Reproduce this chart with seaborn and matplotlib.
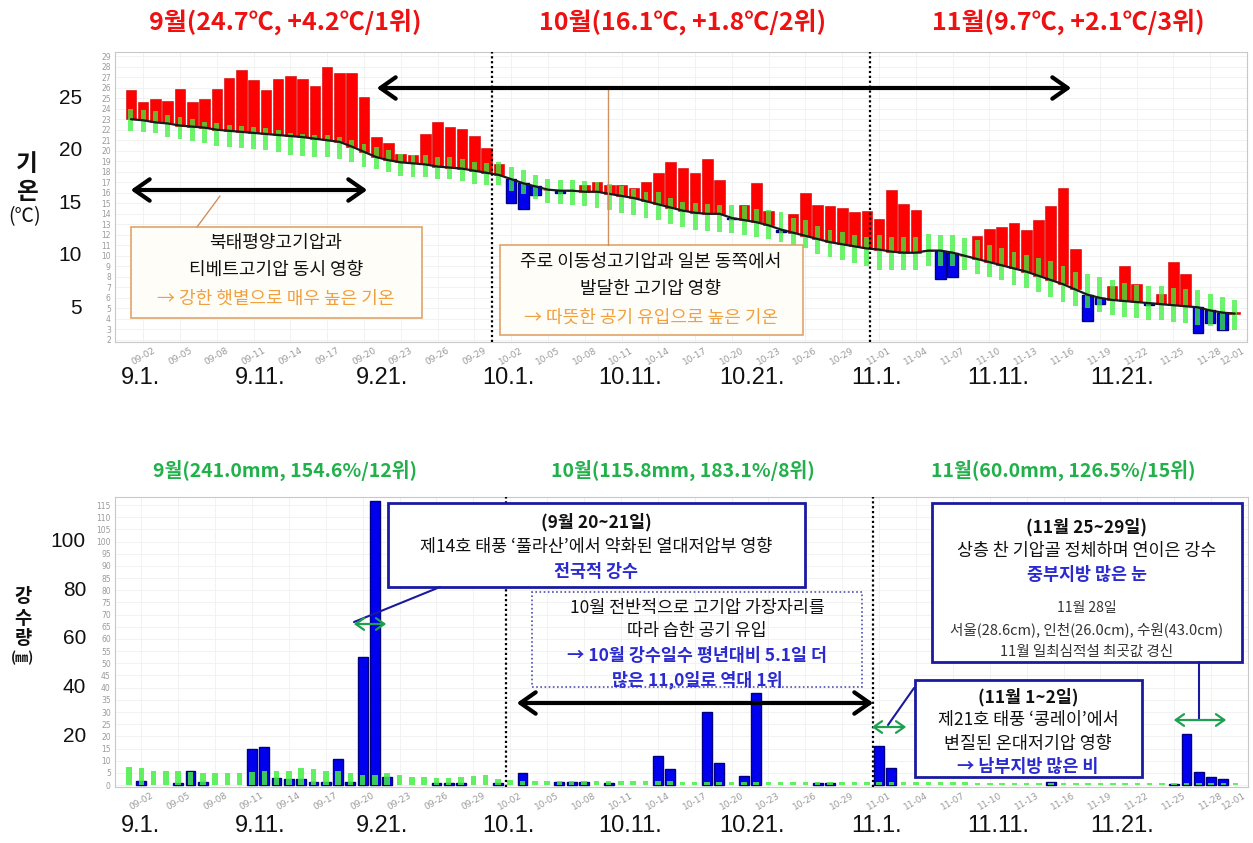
import numpy as np
import pandas as pd
import matplotlib.pyplot as plt
import seaborn as sns
from matplotlib.patches import Rectangle, FancyArrowPatch
from matplotlib.lines import Line2D

# ---------------- data (2024 autumn, daily) ----------------
dates = pd.date_range('2024-09-01', '2024-11-30', freq='D')

temp_sep = [25.8, 24.65, 24.9, 24.7, 25.9, 24.65, 24.9, 25.9, 26.9, 27.7, 26.7, 25.8, 26.8, 27.1, 26.8,
            26.2, 28.0, 27.4, 27.4, 25.1, 21.3, 20.7, 19.7, 19.6, 21.6, 22.7, 22.3, 22.1, 21.4, 20.3]
temp_oct = [18.7, 15.05, 14.5, 15.8, 16.3, 16.0, 16.2, 16.7, 17.05, 16.7, 16.7, 16.5, 17.05, 17.9, 18.9,
            18.4, 17.9, 19.2, 17.2, 13.5, 14.8, 16.9, 14.3, 12.3, 14.0, 16.0, 14.8, 14.7, 14.6, 14.2, 14.3]
temp_nov = [13.5, 16.3, 14.9, 14.4, 10.6, 7.8, 8.0, 10.0, 11.9, 12.6, 12.7, 13.15, 12.45, 13.4, 14.7,
            16.5, 10.65, 3.8, 5.4, 7.1, 9.0, 7.3, 5.3, 6.4, 9.4, 8.3, 2.7, 3.6, 2.95, 4.7]

normal_sep = [23.0, 22.9, 22.7, 22.6, 22.4, 22.3, 22.2, 22.0, 21.9, 21.8, 21.7, 21.6, 21.5, 21.4, 21.3,
              21.15, 21.0, 20.85, 20.4, 19.9, 19.4, 19.1, 18.9, 18.8, 18.7, 18.5, 18.4, 18.3, 18.1, 17.9]
normal_oct = [17.7, 17.3, 16.9, 16.6, 16.3, 16.2, 16.2, 16.1, 16.1, 15.9, 15.7, 15.5, 15.2, 14.9, 14.6,
              14.3, 14.1, 14.0, 14.0, 13.6, 13.4, 13.2, 12.9, 12.5, 12.2, 11.9, 11.6, 11.3, 11.1, 10.9, 10.7]
normal_nov = [10.6, 10.4, 10.3, 10.3, 10.5, 10.5, 10.3, 10.0, 9.7, 9.4, 9.1, 8.8, 8.5, 8.1, 7.7,
              7.3, 6.8, 6.3, 6.0, 5.8, 5.7, 5.6, 5.5, 5.4, 5.3, 5.2, 5.1, 4.8, 4.6, 4.5]

# normal range (upper / lower)
range_hi_sep = [24.0, 23.9, 23.8, 23.4, 23.2, 23.0, 22.75, 22.6, 22.5, 22.4, 22.3, 22.2, 22.0, 21.7, 21.6,
                21.5, 21.5, 21.3, 21.0, 20.6, 20.4, 20.1, 19.7, 19.6, 19.6, 19.4, 19.4, 19.2, 18.9, 18.8]
range_lo_sep = [21.9, 21.8, 21.7, 21.3, 21.1, 20.9, 20.7, 20.5, 20.4, 20.3, 20.2, 20.1, 19.9, 19.6, 19.5,
                19.4, 19.4, 19.2, 18.9, 18.5, 18.3, 18.0, 17.6, 17.5, 17.5, 17.3, 17.3, 17.1, 16.8, 16.7]
range_hi_oct = [18.9, 18.5, 18.2, 17.7, 17.3, 17.2, 17.2, 17.1, 17.0, 16.8, 16.6, 16.4, 16.1, 16.1, 15.5,
                15.1, 15.0, 14.9, 14.8, 14.8, 14.7, 14.5, 14.4, 14.2, 13.6, 13.4, 12.8, 12.5, 12.3, 12.0, 11.8]
range_lo_oct = [16.7, 16.2, 15.9, 15.4, 15.0, 14.9, 14.8, 14.7, 14.6, 14.4, 14.1, 13.9, 13.6, 13.4, 13.0,
                12.7, 12.5, 12.4, 12.3, 12.2, 12.0, 11.8, 11.6, 11.3, 10.9, 10.7, 10.2, 9.9, 9.6, 9.3, 9.0]
range_hi_nov = [12.0, 11.8, 11.8, 11.8, 12.1, 12.0, 12.0, 11.7, 11.5, 11.0, 10.7, 10.4, 10.1, 9.8, 9.5,
                9.0, 8.5, 8.3, 8.0, 7.7, 7.4, 7.2, 7.1, 7.1, 6.9, 6.8, 6.75, 6.4, 6.1, 5.8]
range_lo_nov = [8.65, 8.65, 8.65, 8.65, 9.0, 9.0, 9.0, 8.65, 8.3, 8.0, 7.7, 7.2, 6.9, 6.6, 6.1,
                5.6, 5.2, 5.0, 4.7, 4.4, 4.2, 4.1, 3.9, 3.9, 3.7, 3.6, 3.4, 3.3, 2.95, 2.95]

rain_sep = [0, 1.5, 0, 0, 0.7, 5.7, 1.4, 0, 0, 0, 14.8, 15.7, 2.7, 2.3, 2.3,
            1.4, 1.4, 10.5, 1.1, 52.7, 116.8, 3.4, 0, 0, 0, 0.7, 1.0, 0.7, 0, 0]
rain_oct = [1.0, 0, 4.8, 0, 0, 1.4, 1.4, 1.4, 0, 0.7, 0, 0, 0, 12.0, 6.4,
            0, 0, 30.1, 9.2, 0, 3.7, 37.9, 0, 0, 0, 0, 1.0, 1.0, 0, 0, 0]
rain_nov = [16.0, 6.8, 0, 0, 0, 0, 0, 0, 0, 0, 0, 0, 0, 0, 1.1,
            0, 0, 0, 0, 0, 0, 0, 0, 0, 0.5, 20.8, 5.5, 3.4, 2.3, 0]

rain_normal_sep = [7.3, 6.8, 5.9, 5.9, 5.9, 5.5, 5.1, 4.8, 4.8, 5.1, 5.5, 5.9, 5.9, 5.9, 6.8,
                   6.4, 5.7, 5.7, 4.8, 4.1, 4.1, 5.1, 4.1, 3.4, 3.4, 2.7, 2.7, 3.4, 3.7, 4.1]
rain_normal_oct = [2.5, 2.0, 1.8, 1.7, 1.6, 1.6, 1.6, 1.5, 1.5, 1.5, 1.5, 1.5, 1.5, 1.5, 1.5,
                   1.4, 1.4, 1.4, 1.4, 1.4, 1.4, 1.3, 1.3, 1.3, 1.3, 1.3, 1.3, 1.3, 1.3, 1.3, 1.3]
rain_normal_nov = [1.2, 1.2, 1.2, 1.1, 1.1, 1.1, 1.1, 1.1, 1.0, 1.0, 1.0, 1.0, 1.0, 1.0, 1.0,
                   1.0, 1.0, 1.0, 0.9, 0.9, 0.9, 0.9, 0.9, 0.9, 0.9, 0.9, 0.9, 0.9, 0.9, 0.9]

temp_titles = ['9월(24.7℃, +4.2℃/1위)', '10월(16.1℃, +1.8℃/2위)', '11월(9.7℃, +2.1℃/3위)']
rain_titles = ['9월(241.0mm, 154.6%/12위)', '10월(115.8mm, 183.1%/8위)', '11월(60.0mm, 126.5%/15위)']
big_date_labels = ['9.1.', '9.11.', '9.21.', '10.1.', '10.11.', '10.21.', '11.1.', '11.11.', '11.21.']
temp_big_ticks = [5, 10, 15, 20, 25]
rain_big_ticks = [20, 40, 60, 80, 100]

####################################################
W, H = 1253, 843
RED_T = '#ee1111'
GREEN_T = '#22b04b'
ORANGE = '#f0a040'
NAVY = '#1a1aa0'
BLUE_T = '#2a2ad0'


def fx(px):
    return px / W


def fy(py):
    return 1 - py / H


def ftext(fig, px, py, s, size, color='#111111', weight='normal', family=None, **kw):
    kw.setdefault('ha', 'center')
    kw.setdefault('va', 'center')
    if family is not None:
        kw['family'] = family
    fig.text(fx(px), fy(py), s, fontsize=size, color=color, fontweight=weight, **kw)


def fbox(fig, x0, y0, x1, y1, ec, fc='white', lw=1.5, ls='-'):
    fig.add_artist(Rectangle((fx(x0), fy(y1)), (x1 - x0) / W, (y1 - y0) / H,
                             transform=fig.transFigure, ec=ec, fc=fc, lw=lw, ls=ls, zorder=5))


def fline(fig, x0, y0, x1, y1, color, lw=1.2):
    fig.add_artist(Line2D([fx(x0), fx(x1)], [fy(y0), fy(y1)], transform=fig.transFigure,
                          color=color, lw=lw, zorder=6))


def farrow(fig, x0, x1, y, color, lw, scale):
    fig.add_artist(FancyArrowPatch(
        (fx(x0), fy(y)), (fx(x1), fy(y)), transform=fig.transFigure,
        arrowstyle='<->,head_length=0.5,head_width=0.35', mutation_scale=scale,
        color=color, lw=lw, zorder=7))


def style_axes(ax, xlim, ylim, yticks):
    ax.set_xlim(*xlim)
    ax.set_ylim(*ylim)
    ticks = list(range(1, 92, 3))
    ax.set_xticks(ticks)
    labels = [d.strftime('%m-%d') for d in pd.date_range('2024-09-01', periods=92, freq='D')[ticks]]
    ax.set_xticklabels(labels, rotation=30, ha='center', fontsize=6.5, color='#9a9a9a', family='DejaVu Sans')
    ax.get_xticklabels()[-1].set_horizontalalignment('right')
    ax.set_yticks(yticks)
    ax.set_yticklabels([str(v) for v in yticks], fontsize=5.5, color='#9a9a9a', family='DejaVu Sans')
    ax.tick_params(axis='both', length=2, width=0.6, color='#aaaaaa', pad=1)
    ax.grid(True, color='#f0f0f0', lw=0.6)
    for sp in ax.spines.values():
        sp.set_color('#c8c8c8')
        sp.set_linewidth(0.8)
    ax.set_xlabel('')
    ax.set_ylabel('')


def plot_chart():
    sns.set_theme(style='white')
    plt.rcParams['font.family'] = ['Noto Sans CJK KR', 'DejaVu Sans']
    plt.rcParams['axes.unicode_minus'] = False

    idx = np.arange(len(dates))
    temp = np.array(temp_sep + temp_oct + temp_nov)
    normal = np.array(normal_sep + normal_oct + normal_nov)
    r_hi = np.array(range_hi_sep + range_hi_oct + range_hi_nov)
    r_lo = np.array(range_lo_sep + range_lo_oct + range_lo_nov)
    rain = np.array(rain_sep + rain_oct + rain_nov)
    rain_normal = np.array(rain_normal_sep + rain_normal_oct + rain_normal_nov)

    fig = plt.figure(figsize=(12.53, 8.43), dpi=100)
    ax1 = fig.add_axes([fx(115), fy(342), (1247 - 115) / W, (342 - 52) / H])
    ax2 = fig.add_axes([fx(115), fy(787), (1248 - 115) / W, (787 - 497) / H])

    # ---- temperature ----
    above = temp >= normal
    ax1.bar(idx[above], temp[above] - normal[above], bottom=normal[above], width=0.86,
            color='#ff0000', edgecolor='#d00000', linewidth=0.4, zorder=2)
    ax1.bar(idx[~above], temp[~above] - normal[~above], bottom=normal[~above], width=0.86,
            color='#0000ee', edgecolor='#000080', linewidth=1.0, zorder=2)
    ax1.bar(idx, r_hi - r_lo, bottom=r_lo, width=0.4, color='#3cf03c', alpha=0.75,
            linewidth=0, zorder=3)
    sns.lineplot(x=idx, y=normal, ax=ax1, color='#1a1a1a', lw=1.6, zorder=4)
    style_axes(ax1, (-1.3, 90.95), (1.8, 29.4), list(range(2, 30)))
    for xv in (29.4, 60.3):
        ax1.axvline(xv, color='black', ls=(0, (1, 1.2)), lw=1.6, zorder=5)

    # ---- precipitation ----
    wet = rain > 0
    sns.barplot(x=idx[wet], y=rain[wet], ax=ax2, native_scale=True, width=0.8, errorbar=None,
                color='#0000ee', edgecolor='#000080', linewidth=1.0, saturation=1, zorder=2)
    sns.barplot(x=idx, y=rain_normal, ax=ax2, native_scale=True, width=0.45, errorbar=None,
                color='#44ee44', alpha=0.85, linewidth=0, saturation=1, zorder=3)
    style_axes(ax2, (-1.14, 90.98), (-0.8, 118.3), list(range(0, 116, 5)))
    for xv in (30.65, 60.5):
        ax2.axvline(xv, color='black', ls=(0, (1, 1.2)), lw=1.6, zorder=5)

    # ---- titles ----
    for s, px in zip(temp_titles, (285, 683, 1068)):
        ftext(fig, px, 22, s, 18, color=RED_T, weight='bold')
    for s, px in zip(rain_titles, (285, 683, 1063)):
        ftext(fig, px, 470, s, 14, color=GREEN_T, weight='bold')

    # ---- big axis labels ----
    for v in temp_big_ticks:
        ftext(fig, 82, 340 - (v - 2) * 10.52, str(v), 15, family=['Liberation Sans'], ha='right')
    for v in rain_big_ticks:
        ftext(fig, 86, 785 - v * 2.435, str(v), 15, family=['Liberation Sans'], ha='right')
    ftext(fig, 27, 164, '기', 17, weight='bold')
    ftext(fig, 27, 192, '온', 17, weight='bold')
    ftext(fig, 25, 217, '(℃)', 14)
    ftext(fig, 23, 597, '강', 13.5, weight='bold')
    ftext(fig, 23, 618, '수', 13.5, weight='bold')
    ftext(fig, 23, 638, '량', 13.5, weight='bold')
    ftext(fig, 23, 658, '(㎜)', 9.5, weight='bold')
    for s, px in zip(big_date_labels, (140, 260, 382, 508, 630, 752, 877, 998, 1122)):
        ftext(fig, px, 378, s, 17, family=['Liberation Sans'])
        ftext(fig, px, 826, s, 17, family=['Liberation Sans'])

    # ---- temperature annotations ----
    farrow(fig, 128, 370, 190, 'black', 3, 22)
    farrow(fig, 374, 1074, 88, 'black', 3, 22)
    fline(fig, 197, 227, 220, 196, '#d09060', 1.0)
    fline(fig, 608, 90, 608, 245, '#d09060', 1.0)
    fbox(fig, 131, 227, 422, 318, ec='#e0a36a', fc='#fffdf8', lw=1.2)
    ftext(fig, 276, 243, '북태평양고기압과', 13, zorder=8)
    ftext(fig, 276, 270, '티베트고기압 동시 영향', 13, zorder=8)
    ftext(fig, 276, 299, '→ 강한 햇볕으로 매우 높은 기온', 13, color=ORANGE, zorder=8)
    fbox(fig, 500, 245, 803, 335, ec='#e0a36a', fc='#fffdf8', lw=1.2)
    ftext(fig, 651, 262, '주로 이동성고기압과 일본 동쪽에서', 13, zorder=8)
    ftext(fig, 651, 289, '발달한 고기압 영향', 13, zorder=8)
    ftext(fig, 651, 318, '→ 따뜻한 공기 유입으로 높은 기온', 13, color=ORANGE, zorder=8)

    # ---- precipitation annotations ----
    fline(fig, 440, 587, 354, 622, NAVY, 1.5)
    farrow(fig, 351, 389, 624, '#1fa050', 1.6, 12)
    fbox(fig, 388, 503, 805, 587, ec=NAVY, lw=2)
    ftext(fig, 596, 522, '(9월 20~21일)', 12.5, weight='bold', zorder=8)
    ftext(fig, 596, 547, '제14호 태풍 ‘풀라산’에서 약화된 열대저압부 영향', 12.5, zorder=8)
    ftext(fig, 596, 572, '전국적 강수', 12.5, color=BLUE_T, weight='bold', zorder=8)

    fbox(fig, 532, 592, 862, 687, ec='#5050b0', fc='none', lw=1.2, ls=(0, (1, 1.5)))
    ftext(fig, 697, 608, '10월 전반적으로 고기압 가장자리를', 12.5, zorder=8)
    ftext(fig, 697, 631, '따라 습한 공기 유입', 12.5, zorder=8)
    ftext(fig, 697, 656, '→ 10월 강수일수 평년대비 5.1일 더', 12.5, color=BLUE_T, weight='bold', zorder=8)
    ftext(fig, 697, 680, '많은 11,0일로 역대 1위', 12.5, color=BLUE_T, weight='bold', zorder=8)
    farrow(fig, 514, 876, 703, 'black', 3, 22)

    fline(fig, 914, 688, 888, 725, NAVY, 1.5)
    farrow(fig, 869, 909, 727, '#1fa050', 1.6, 12)
    fbox(fig, 915, 680, 1142, 777, ec=NAVY, lw=2)
    ftext(fig, 1028, 697, '(11월 1~2일)', 12.5, weight='bold', zorder=8)
    ftext(fig, 1028, 720, '제21호 태풍 ‘콩레이’에서', 12.5, zorder=8)
    ftext(fig, 1028, 744, '변질된 온대저기압 영향', 12.5, zorder=8)
    ftext(fig, 1028, 767, '→ 남부지방 많은 비', 12.5, color=BLUE_T, weight='bold', zorder=8)

    fline(fig, 1199, 662, 1199, 719, NAVY, 1.5)
    farrow(fig, 1171, 1229, 720, '#1fa050', 1.6, 12)
    fbox(fig, 932, 503, 1242, 662, ec=NAVY, lw=2)
    ftext(fig, 1087, 527, '(11월 25~29일)', 12.5, weight='bold', zorder=8)
    ftext(fig, 1087, 551, '상층 찬 기압골 정체하며 연이은 강수', 12.5, zorder=8)
    ftext(fig, 1087, 575, '중부지방 많은 눈', 12.5, color=BLUE_T, weight='bold', zorder=8)
    ftext(fig, 1087, 608, '11월 28일', 10, color='#333333', zorder=8)
    ftext(fig, 1087, 630, '서울(28.6cm), 인천(26.0cm), 수원(43.0cm)', 10.5, color='#333333', zorder=8)
    ftext(fig, 1087, 652, '11월 일최심적설 최곳값 경신', 10.5, color='#333333', zorder=8)

    fig.savefig('out.png', dpi=100)


if __name__ == '__main__':
    plot_chart()
